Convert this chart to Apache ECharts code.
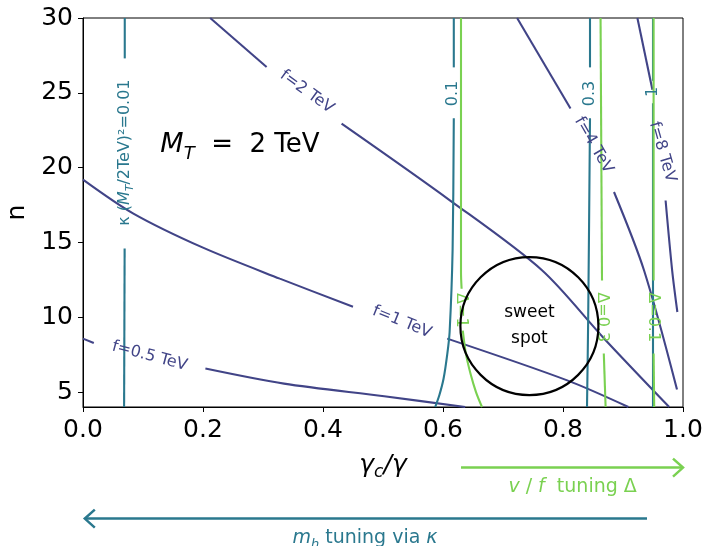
<!DOCTYPE html>
<html>
<head>
<meta charset="utf-8">
<script src="https://cdn.jsdelivr.net/npm/echarts@6/dist/echarts.min.js"></script>
<style>
  html, body { margin: 0; padding: 0; background: #fff; }
  #chart { width: 705px; height: 546px; }
</style>
</head>
<body>
<div id="chart"></div>
<script>
const FONT = 'DejaVu Sans'
const BLUE = '#414487'
const TEAL = '#2a788e'
const GREEN = '#7ad151'

// contour lines, null = gap left for an inline label
const f05 = [[0, 8.57], [0.018, 8.28], null, [0.204, 6.57], [0.335, 5.56], [0.502, 4.72], [0.637, 4.0]]
const f1 = [[0, 19.2], [0.084, 16.93], [0.2, 14.65], [0.328, 12.58], [0.45, 10.7], null, [0.607, 8.57], [0.807, 5.78], [0.909, 4.0]]
const f2 = [[0.212, 30], [0.306, 26.73], null, [0.431, 22.94], [0.612, 17.8], [0.765, 13.14], [0.868, 8.6], [0.977, 4.0]]
const f4 = [[0.7235, 30], [0.8125, 23.95], null, [0.885, 18.37], [0.935, 13.14], [0.99, 5.17]]
const f8 = [[0.924, 30], [0.949, 25.2], null, [0.971, 17.8], [0.982, 13.1], [0.9906, 10.35]]

const k001 = [[0.0696, 30], [0.0696, 27.3], null, [0.0694, 14.6], [0.0685, 4]]
const k01 = [[0.618, 30], [0.618, 26.7], null, [0.618, 23.3], [0.616, 14.5], [0.611, 9.0], [0.607, 7.5], [0.601, 5.9], [0.594, 4.8], [0.587, 4.0]]
const k03 = [[0.845, 30], [0.845, 26.7], null, [0.845, 23.3], [0.842, 10], [0.840, 4]]
const k1 = [[0.95, 30], [0.95, 25.8], null, [0.95, 24.3], [0.95, 4]]

const d1 = [[0.630, 30], [0.630, 13], [0.631, 11.9], null, [0.633, 9.1], [0.638, 7.6], [0.646, 6.2], [0.655, 5.0], [0.665, 4.0]]
const d03 = [[0.8626, 30], [0.865, 12.46], null, [0.868, 7.57], [0.871, 4]]
const d01 = [[0.951, 30], [0.951, 12.46], null, [0.951, 7.57], [0.952, 4]]

// inline labels
const fLabels = ['f=0.5 TeV', 'f=1 TeV', 'f=2 TeV', 'f=4 TeV', 'f=8 TeV']
const fLabelPos = [[0.111, 7.4], [0.5316, 9.68], [0.373, 25.06], [0.851, 21.5], [0.9656, 21.05]]
const fLabelAngle = [-15, -22, -36, -60, -74]

const kLabels = ['{n|κ (}{i|M}{s|T}{n|/2TeV)²=0.01}', '{n|0.1}', '{n|0.3}', '{n|1}']
const kLabelPos = [[0.0696, 21.0], [0.617, 24.95], [0.845, 24.95], [0.95, 25.06]]

const dLabels = ['Δ=1', 'Δ=0.3', 'Δ=0.1']
const dLabelPos = [[0.631, 10.46], [0.866, 10.0], [0.951, 10.0]]

const sweetSpot = [0.744, 9.41]
const mtPos = [0.2616, 21.5]

// tuning arrows below the axis (data units)
const vfArrow = [[0.63, -0.05], [1.0, -0.05]]
const mhArrow = [[0.94, -3.46], [0.003, -3.46]]
const vfTextPos = [0.816, -1.35]
const mhTextPos = [0.47, -4.78]

const yTicks = [5, 10, 15, 20, 25, 30]

const chart = echarts.init(document.getElementById('chart'))

const segments = pts => {
  const out = [[]]
  pts.forEach(p => { if (p) out[out.length - 1].push(p); else out.push([]) })
  return out.filter(s => s.length)
}

const contour = (pts, color) => segments(pts).map(seg => ({
  type: 'line',
  data: seg,
  smooth: 0.3,
  symbol: 'none',
  silent: true,
  lineStyle: { color, width: 2.1 },
  z: 2
}))

const textSeries = (items, z) => ({
  type: 'scatter',
  symbolSize: 0.1,
  silent: true,
  itemStyle: { color: 'rgba(0,0,0,0)', opacity: 1 },
  z: z || 5,
  data: items
})

const labelItem = (pos, text, color, rotate, size, rich) => ({
  value: pos,
  label: {
    show: true,
    position: 'inside',
    formatter: text,
    rotate,
    color,
    fontFamily: FONT,
    fontSize: size,
    rich
  }
})

const kRich = {
  n: { color: TEAL, fontSize: 16, fontFamily: FONT, lineHeight: 22 },
  i: { color: TEAL, fontSize: 16, fontFamily: FONT, fontStyle: 'italic', lineHeight: 22 },
  s: { color: TEAL, fontSize: 11, fontFamily: FONT, fontStyle: 'italic', verticalAlign: 'bottom', lineHeight: 11 }
}

const series = [
  ...contour(f05, BLUE), ...contour(f1, BLUE), ...contour(f2, BLUE),
  ...contour(f4, BLUE), ...contour(f8, BLUE),
  ...contour(k001, TEAL), ...contour(k01, TEAL), ...contour(k03, TEAL), ...contour(k1, TEAL),
  ...contour(d1, GREEN), ...contour(d03, GREEN), ...contour(d01, GREEN),
  textSeries(fLabels.map((t, i) => labelItem(fLabelPos[i], t, BLUE, fLabelAngle[i], 16))),
  textSeries(kLabels.map((t, i) => labelItem(kLabelPos[i], t, TEAL, 90, 16, kRich))),
  textSeries(dLabels.map((t, i) => labelItem(dLabelPos[i], t, GREEN, -90, 16))),
  {
    type: 'scatter',
    silent: true,
    symbol: 'circle',
    symbolSize: 138,
    z: 6,
    itemStyle: { color: 'rgba(0,0,0,0)', borderColor: '#000', borderWidth: 2.2, opacity: 1 },
    label: {
      show: true,
      position: 'inside',
      formatter: 'sweet\nspot',
      color: '#000',
      fontFamily: FONT,
      fontSize: 17,
      lineHeight: 26
    },
    data: [sweetSpot]
  },
  textSeries([labelItem(mtPos, '{i|M}{s|T}{n|  =  2 TeV}', '#000', 0, 26, {
    i: { fontSize: 27, fontStyle: 'italic', fontFamily: FONT, color: '#000', lineHeight: 36 },
    s: { fontSize: 18, fontStyle: 'italic', fontFamily: FONT, color: '#000', verticalAlign: 'bottom', lineHeight: 18 },
    n: { fontSize: 26, fontFamily: FONT, color: '#000', lineHeight: 36 }
  })])
]

chart.setOption({
  animation: false,
  grid: {
    left: 83,
    right: 22,
    top: 18,
    bottom: 139,
    outerBoundsMode: 'none',
    containLabel: false,
    show: true,
    borderColor: '#000',
    borderWidth: 1
  },
  xAxis: {
    type: 'value',
    min: 0,
    max: 1,
    interval: 0.2,
    name: '{i|γ}{s|c}{i|/γ}',
    nameLocation: 'middle',
    nameGap: 42,
    nameTextStyle: {
      rich: {
        i: { fontSize: 25, fontStyle: 'italic', fontFamily: FONT, color: '#000', lineHeight: 32 },
        s: { fontSize: 17, fontStyle: 'italic', fontFamily: FONT, color: '#000', verticalAlign: 'bottom', lineHeight: 17 }
      }
    },
    axisLine: { onZero: false, lineStyle: { color: '#000', width: 1 } },
    axisTick: { inside: false, length: 5, lineStyle: { color: '#000' } },
    axisLabel: {
      color: '#000',
      fontFamily: FONT,
      fontSize: 25,
      margin: 11,
      formatter: v => v.toFixed(1)
    },
    splitLine: { show: false }
  },
  yAxis: {
    type: 'value',
    min: 4,
    max: 30,
    name: 'n',
    nameLocation: 'middle',
    nameGap: 51,
    nameTextStyle: { color: '#000', fontFamily: FONT, fontSize: 25 },
    axisLine: { onZero: false, lineStyle: { color: '#000', width: 1 } },
    axisTick: { inside: false, length: 5, customValues: yTicks, lineStyle: { color: '#000' } },
    axisLabel: { color: '#000', fontFamily: FONT, fontSize: 25, margin: 10, customValues: yTicks },
    splitLine: { show: false }
  },
  series
})

// arrows and their captions live below the axes, placed through the grid's scales
const px = p => chart.convertToPixel({ gridIndex: 0 }, p)

const arrow = (pts, color) => {
  const a = px(pts[0])
  const b = px(pts[1])
  const dir = Math.sign(b[0] - a[0])
  return [
    { type: 'polyline', shape: { points: [a, b] }, style: { stroke: color, lineWidth: 2.5, fill: null } },
    {
      type: 'polyline',
      shape: { points: [[b[0] - dir * 10, b[1] - 9], b, [b[0] - dir * 10, b[1] + 9]] },
      style: { stroke: color, lineWidth: 2.5, fill: null }
    }
  ]
}

const caption = (pos, rich, text) => {
  const p = px(pos)
  return {
    type: 'text',
    x: p[0],
    y: p[1],
    style: { text, rich, align: 'center', verticalAlign: 'middle' }
  }
}

chart.setOption({
  graphic: [
    ...arrow(vfArrow, GREEN),
    ...arrow(mhArrow, TEAL),
    caption(vfTextPos, {
      i: { fontSize: 19, fontStyle: 'italic', fontFamily: FONT, fill: GREEN, color: GREEN },
      n: { fontSize: 19, fontFamily: FONT, fill: GREEN, color: GREEN }
    }, '{i|v}{n| / }{i|f}{n|  tuning Δ}'),
    caption(mhTextPos, {
      i: { fontSize: 19, fontStyle: 'italic', fontFamily: FONT, fill: TEAL, color: TEAL, lineHeight: 26 },
      s: { fontSize: 13, fontStyle: 'italic', fontFamily: FONT, fill: TEAL, color: TEAL, verticalAlign: 'bottom', lineHeight: 13 },
      n: { fontSize: 19, fontFamily: FONT, fill: TEAL, color: TEAL, lineHeight: 26 }
    }, '{i|m}{s|h}{n| tuning via }{i|κ}')
  ]
})
</script>
</body>
</html>
